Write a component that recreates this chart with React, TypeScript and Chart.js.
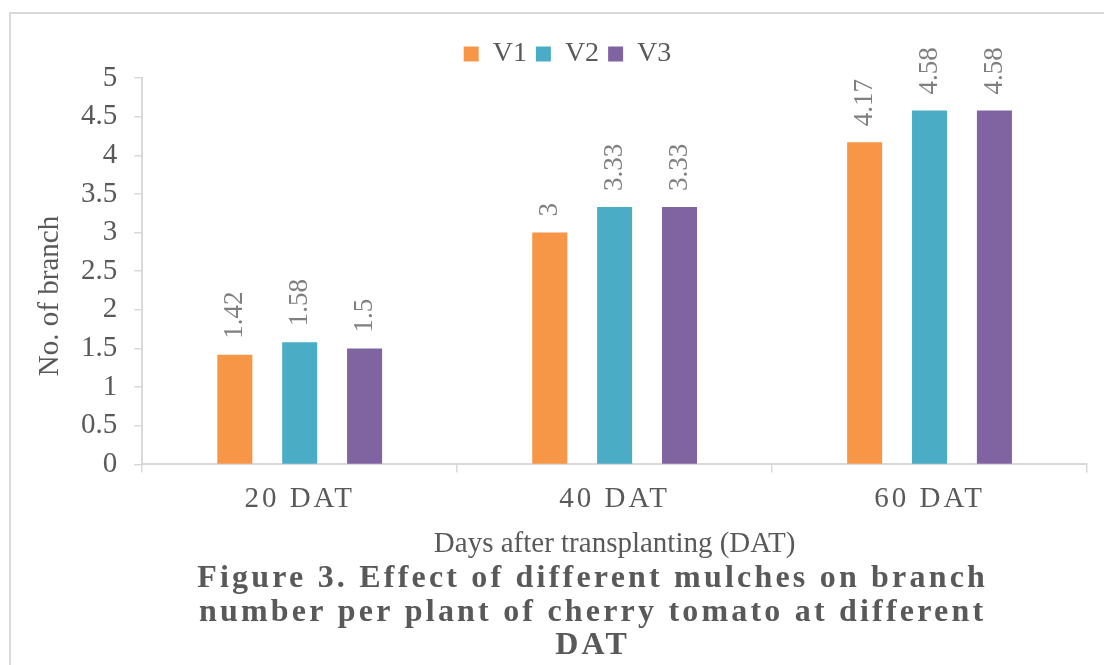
import React, { useEffect, useRef } from "react";
import { Chart, registerables } from "chart.js";

Chart.register(...registerables);

const categories = ["20 DAT", "40 DAT", "60 DAT"];
const seriesNames = ["V1", "V2", "V3"];
const v1Values = [1.42, 3, 4.17];
const v2Values = [1.58, 3.33, 4.58];
const v3Values = [1.5, 3.33, 4.58];
const seriesColors = ["#F79646", "#4BACC6", "#8064A2"];
const yMin = 0;
const yMax = 5;
const yStep = 0.5;
const yAxisTitle = "No. of branch";
const xAxisTitle = "Days after transplanting (DAT)";
const captionLines = [
  "Figure 3. Effect of different mulches on branch",
  "number per plant of cherry tomato at different",
  "DAT",
];

const SERIF = "'Liberation Serif', 'Times New Roman', serif";
const TEXT = "#595959";
const AXIS = "#d9d9d9";

const decorPlugin = {
  id: "decor",
  afterLayout(chart: any) {
    const lg = chart.legend;
    if (lg) {
      lg.left -= 8;
      lg.right -= 8;
    }
  },
  afterDatasetsDraw(chart: any) {
    const ctx = chart.ctx;
    ctx.save();
    ctx.font = `27px ${SERIF}`;
    ctx.fillStyle = "#7f7f7f";
    ctx.textAlign = "left";
    ctx.textBaseline = "middle";
    chart.data.datasets.forEach((ds: any, di: number) => {
      const meta = chart.getDatasetMeta(di);
      meta.data.forEach((bar: any, i: number) => {
        ctx.save();
        ctx.translate(bar.x, bar.y - 16);
        ctx.rotate(-Math.PI / 2);
        ctx.fillText(String(ds.data[i]), 0, 0);
        ctx.restore();
      });
    });
    ctx.restore();
  },
  afterDraw(chart: any) {
    const ctx = chart.ctx;
    const area = chart.chartArea;
    // y axis title
    ctx.save();
    ctx.font = `29px ${SERIF}`;
    ctx.fillStyle = TEXT;
    ctx.textAlign = "center";
    ctx.textBaseline = "middle";
    ctx.translate(area.left - 92, area.top + 218);
    ctx.rotate(-Math.PI / 2);
    ctx.fillText(yAxisTitle, 0, 0);
    ctx.restore();
    // caption
    ctx.save();
    ctx.font = `bold 32px ${SERIF}`;
    ctx.fillStyle = TEXT;
    ctx.textAlign = "center";
    ctx.textBaseline = "middle";
    (ctx as any).letterSpacing = "3.2px";
    const cx = (area.left + area.right) / 2 - 22;
    const y0 = chart.scales.x.bottom + 17;
    captionLines.forEach((line, i) => ctx.fillText(line, cx, y0 + i * 33.5));
    ctx.restore();
  },
};

export default function App() {
  const ref = useRef<HTMLCanvasElement | null>(null);
  useEffect(() => {
    if (!ref.current) return;
    const seriesValues = [v1Values, v2Values, v3Values];
    const chart = new Chart(ref.current, {
      type: "bar",
      data: {
        labels: categories,
        datasets: seriesNames.map((name, i) => ({
          label: name,
          data: seriesValues[i],
          backgroundColor: seriesColors[i],
          borderWidth: 0,
          categoryPercentage: 0.618,
          barPercentage: 0.54,
        })),
      },
      options: {
        responsive: false,
        animation: false,
        devicePixelRatio: 1,
        layout: { padding: { left: 64, right: 17, top: 31, bottom: 103 } },
        plugins: {
          legend: {
            position: "top",
            labels: {
              boxWidth: 15,
              boxHeight: 15,
              padding: 9,
              color: TEXT,
              font: { family: SERIF, size: 28 },
            },
          },
          tooltip: { enabled: false },
          title: { display: false },
        },
        scales: {
          x: {
            grid: {
              display: true,
              drawOnChartArea: false,
              drawTicks: true,
              tickLength: 8,
              color: AXIS,
              lineWidth: 1.5,
            },
            border: { display: true, color: AXIS, width: 2 },
            ticks: {
              color: TEXT,
              font: { family: SERIF, size: 29 },
              padding: 10,
              maxRotation: 0,
              autoSkip: false,
            },
            title: {
              display: true,
              text: xAxisTitle,
              color: TEXT,
              font: { family: SERIF, size: 29 },
              padding: { top: 0, bottom: 0 },
            },
            afterFit: (scale: any) => {
              if (!scale.__ls) {
                const orig = scale.drawLabels.bind(scale);
                scale.drawLabels = (a: any) => {
                  const c = scale.ctx;
                  const prev = c.letterSpacing;
                  c.letterSpacing = "3px";
                  orig(a);
                  c.letterSpacing = prev || "0px";
                };
                scale.__ls = true;
              }
            },
          },
          y: {
            min: yMin,
            max: yMax,
            ticks: {
              stepSize: yStep,
              autoSkip: false,
              color: TEXT,
              font: { family: SERIF, size: 29 },
              padding: 17,
              callback: (v: any) => String(Number(v)),
            },
            grid: {
              display: true,
              drawOnChartArea: false,
              drawTicks: true,
              tickLength: 8,
              color: AXIS,
              lineWidth: 1.5,
            },
            border: { display: true, color: AXIS, width: 2 },
          },
        },
      },
      plugins: [decorPlugin],
    });
    return () => chart.destroy();
  }, []);

  return (
    <div
      style={{
        position: "fixed",
        left: 0,
        top: 0,
        width: 1104,
        height: 665,
        overflow: "hidden",
        background: "#ffffff",
      }}
    >
      <div
        style={{
          position: "absolute",
          left: 9,
          top: 12,
          width: 1300,
          height: 900,
          border: `2px solid ${AXIS}`,
          boxSizing: "border-box",
        }}
      />
      <canvas
        ref={ref}
        width={1104}
        height={665}
        style={{ position: "absolute", left: 0, top: 0, width: 1104, height: 665 }}
      />
    </div>
  );
}
